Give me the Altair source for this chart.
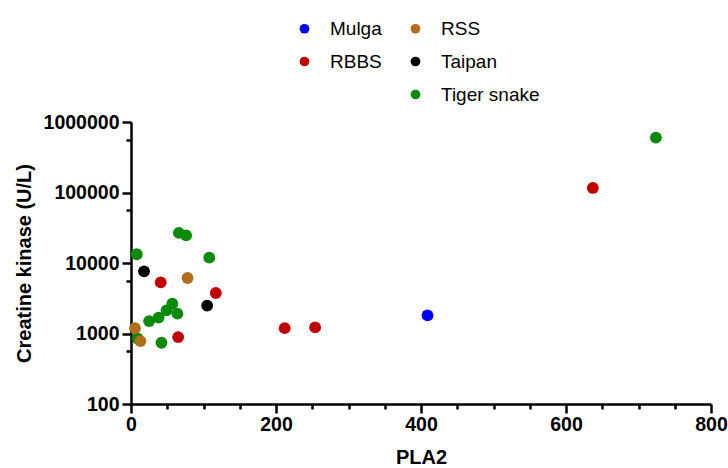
import altair as alt
import pandas as pd

# ---- data (PLA2 vs creatine kinase) ----
tiger_pla2 = [8, 66, 76, 108, 57, 49, 64, 38, 25, 9, 42, 724]
tiger_ck = [13300, 26700, 24700, 11900, 2650, 2130, 1910, 1680, 1500, 850, 740, 601000]

taipan_pla2 = [18, 105]
taipan_ck = [7620, 2490]

rss_pla2 = [78, 5.5, 13]
rss_ck = [6120, 1190, 780]

rbbs_pla2 = [41, 117, 65, 212, 254, 637]
rbbs_ck = [5320, 3750, 890, 1190, 1220, 116000]

mulga_pla2 = [409]
mulga_ck = [1810]

# legend order (filled column by column, 3 rows; a blank slot ends column 1)
legend_domain = ["Mulga", "RBBS", " ", "RSS", "Taipan", "Tiger snake"]
legend_colors = ["#0000f5", "#c00000", "transparent", "#b06f1c", "#000000", "#0a8a0a"]

x_major = [0, 200, 400, 600, 800]
x_minor = [50, 100, 150, 250, 300, 350, 450, 500, 550, 650, 700, 750]
y_major = [100, 1000, 10000, 100000, 1000000]
y_minor = [10 ** (k - 0.25) for k in range(3, 7)]

rows = []
for name, xs, ys in [
    ("Tiger snake", tiger_pla2, tiger_ck),
    ("Taipan", taipan_pla2, taipan_ck),
    ("RSS", rss_pla2, rss_ck),
    ("RBBS", rbbs_pla2, rbbs_ck),
    ("Mulga", mulga_pla2, mulga_ck),
]:
    for a, b in zip(xs, ys):
        rows.append({"species": name, "pla2": a, "ck": b})
df = pd.DataFrame(rows)

FONT = "Liberation Sans"

xscale = alt.Scale(domain=[0, 800], nice=False, zero=False)
yscale = alt.Scale(type="log", domain=[100, 1000000], nice=False)

axis_common = dict(
    domainColor="black", domainWidth=2.5, tickColor="black", tickWidth=2.5,
    labelFont=FONT, labelFontSize=19.5, labelFontWeight="bold", labelColor="black",
    titleFont=FONT, titleFontSize=20, titleFontWeight="bold", titleColor="black",
    grid=False, labelFlush=False, labelOverlap=False,
)

minor = alt.Chart(df).mark_circle(opacity=0).encode(
    x=alt.X("pla2:Q", scale=xscale,
            axis=alt.Axis(values=x_minor, labels=False, title=None, tickSize=5,
                          domain=False, orient="bottom", tickColor="black",
                          tickWidth=2.5, grid=False)),
    y=alt.Y("ck:Q", scale=yscale,
            axis=alt.Axis(values=y_minor, labels=False, title=None, tickSize=5,
                          domain=False, orient="left", tickColor="black",
                          tickWidth=2.5, grid=False)),
)

points = alt.Chart(df).mark_circle(size=140, opacity=1).encode(
    x=alt.X("pla2:Q", scale=xscale,
            axis=alt.Axis(values=x_major, title="PLA2", tickSize=9, labelPadding=2,
                          titlePadding=14, orient="bottom", **axis_common)),
    y=alt.Y("ck:Q", scale=yscale,
            axis=alt.Axis(values=y_major, format="d", title="Creatine kinase (U/L)",
                          tickSize=9, labelPadding=3, titlePadding=9, orient="left",
                          **axis_common)),
    color=alt.Color("species:N",
                    scale=alt.Scale(domain=legend_domain, range=legend_colors),
                    legend=alt.Legend(orient="none", legendX=164, legendY=-103,
                                      columns=2, title=None, symbolType="circle",
                                      symbolSize=95, symbolStrokeWidth=0,
                                      labelFont=FONT, labelFontSize=19,
                                      labelColor="black", labelOffset=16,
                                      columnPadding=24, rowPadding=13)),
)

chart = alt.layer(minor, points).resolve_axis(x="independent", y="independent").properties(
    width=580, height=282,
    padding={"left": 14, "top": 19, "right": 0, "bottom": 2},
    background="white",
).configure_view(stroke=None)

chart.save("out.html", embed_options={"renderer": "svg", "actions": False})
